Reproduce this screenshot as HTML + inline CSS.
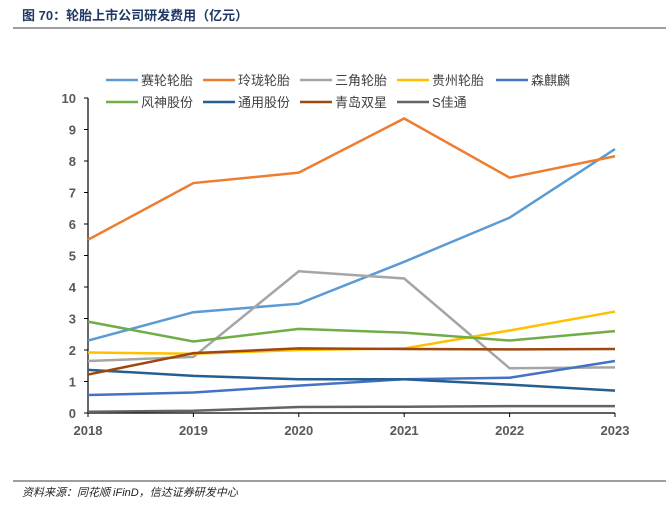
<!DOCTYPE html>
<html><head><meta charset="utf-8"><style>
body{margin:0;background:#fff;width:666px;height:510px;overflow:hidden;font-family:"Liberation Sans","Noto Sans CJK SC",sans-serif}
</style></head><body>
<svg width="666" height="510" style="position:absolute;left:0;top:0">
<text x="22" y="20" font-size="13" font-weight="bold" fill="#1f3864">图 70：轮胎上市公司研发费用（亿元）</text>
<line x1="13" y1="28" x2="666" y2="28" stroke="#7f7f7f" stroke-width="1.5"/>
<g id="legend"></g>
<g id="axes"></g>
<g id="series"></g>
<line x1="13" y1="481" x2="666" y2="481" stroke="#7f7f7f" stroke-width="1.5"/>
<text x="22" y="496" font-size="11" font-style="italic" fill="#222">资料来源：同花顺 iFinD，信达证券研发中心</text>
</svg>
<script>
const years=["2018","2019","2020","2021","2022","2023"];
const yTicks=[0,1,2,3,4,5,6,7,8,9,10];
const names=["赛轮轮胎","玲珑轮胎","三角轮胎","贵州轮胎","森麒麟","风神股份","通用股份","青岛双星","S佳通"];
const colors=["#5b9bd5","#ed7d31","#a5a5a5","#ffc000","#4472c4","#70ad47","#255e91","#9e480e","#636363"];
const sailun=[2.3,3.2,3.47,4.8,6.2,8.38];
const linglong=[5.5,7.3,7.63,9.35,7.47,8.15];
const sanjiao=[1.65,1.78,4.5,4.27,1.42,1.45];
const guizhou=[1.92,1.88,2.0,2.05,2.62,3.22];
const senqilin=[0.57,0.65,0.87,1.07,1.12,1.65];
const fengshen=[2.9,2.27,2.67,2.55,2.3,2.6];
const tongyong=[1.37,1.18,1.07,1.07,0.9,0.71];
const qingdao=[1.22,1.9,2.05,2.03,2.02,2.03];
const jiatong=[0.04,0.07,0.19,0.2,0.22,0.22];
const series=[sailun,linglong,sanjiao,guizhou,senqilin,fengshen,tongyong,qingdao,jiatong];
const NS="http://www.w3.org/2000/svg";
const X0=88,X1=615,Y0=413,Y1=98;
const xs=i=>X0+(X1-X0)*i/(years.length-1);
const ys=v=>Y0-(Y0-Y1)*v/10;
function mk(p,t,a){const e=document.createElementNS(NS,t);for(const k in a)e.setAttribute(k,a[k]);p.appendChild(e);return e;}
const ax=document.getElementById('axes');
let l=mk(ax,'line',{x1:X0,y1:Y1,x2:X0,y2:Y0,stroke:'#000','stroke-width':1.2});


l=mk(ax,'line',{x1:X0,y1:Y0,x2:X1,y2:Y0,stroke:'#000','stroke-width':1.2});


yTicks.forEach(v=>{
 mk(ax,'line',{x1:X0-4,y1:ys(v),x2:X0,y2:ys(v),stroke:'#000'});
 const t=mk(ax,'text',{x:X0-12,y:ys(v)+5,'text-anchor':'end','font-size':13,'font-weight':'bold',fill:'#595959'});
 t.textContent=v;
 
 
});
years.forEach((y,i)=>{
 mk(ax,'line',{x1:xs(i),y1:Y0,x2:xs(i),y2:Y0+4,stroke:'#000'});
 const t=mk(ax,'text',{x:xs(i),y:Y0+22,'text-anchor':'middle','font-size':13,'font-weight':'bold',fill:'#595959'});
 t.textContent=y;
 
 
});
const sg=document.getElementById('series');
series.forEach((d,k)=>{
 const p=mk(sg,'polyline',{points:d.map((v,i)=>xs(i)+','+ys(v)).join(' '),fill:'none',stroke:colors[k],'stroke-width':2.5});
 
 
});
const lg=document.getElementById('legend');
const lw=[[106,203,300,397,496],[106,203,300,397]];
names.forEach((n,k)=>{
 const r=k<5?0:1, c=k<5?k:k-5;
 const x=lw[r][c], y=r?102:80;
 const g=mk(lg,'g',{});
 
 
 mk(g,'line',{x1:x,y1:y,x2:x+32,y2:y,stroke:colors[k],'stroke-width':2.5});
 const t=mk(g,'text',{x:x+35,y:y+5,'font-size':13,fill:'#404040'});
 t.textContent=n;
});
</script>
</body></html>
